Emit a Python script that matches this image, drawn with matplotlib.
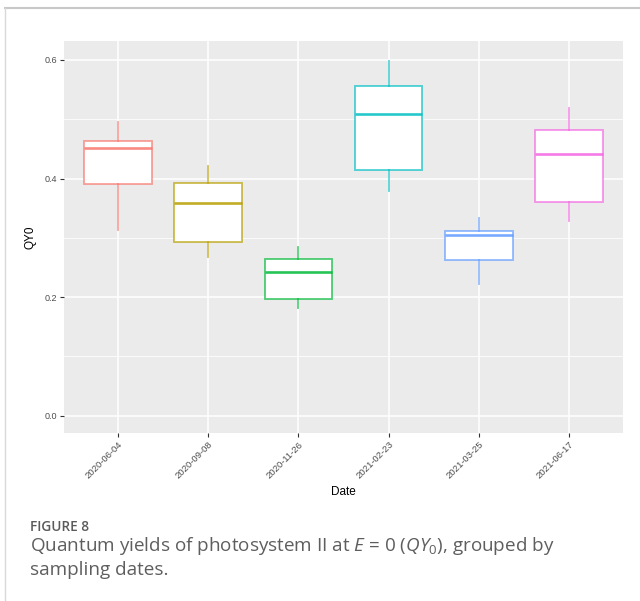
import numpy as np
import matplotlib.pyplot as plt
from matplotlib.colors import to_rgba
from matplotlib.lines import Line2D

# sampling dates and box statistics of QY0
dates = ['2020-06-04', '2020-09-08', '2020-11-26', '2021-02-23', '2021-03-25', '2021-06-17']
whislo = [0.313, 0.267, 0.181, 0.379, 0.222, 0.329]
q1 = [0.391, 0.293, 0.197, 0.414, 0.262, 0.360]
med = [0.452, 0.358, 0.243, 0.509, 0.305, 0.441]
q3 = [0.464, 0.392, 0.265, 0.556, 0.311, 0.482]
whishi = [0.496, 0.421, 0.284, 0.598, 0.333, 0.519]

# ggplot default hue palette
colors = ['#F8766D', '#B79F00', '#00BA38', '#00BFC4', '#619CFF', '#F564E3']

plt.rcParams['mathtext.fontset'] = 'custom'
plt.rcParams['mathtext.rm'] = 'Open Sans'
plt.rcParams['mathtext.it'] = 'Open Sans:italic'

W, H = 640, 601
fig = plt.figure(figsize=(W / 100, H / 100), dpi=100)
fig.patch.set_facecolor('white')

# panel placement in pixels
left, right, top, bottom = 64, 623, 41, 433
ax = fig.add_axes([left / W, 1 - bottom / H, (right - left) / W, (bottom - top) / H])
ax.set_facecolor('#EBEBEB')
for s in ax.spines.values():
    s.set_visible(False)

pos = np.arange(1, len(dates) + 1)
ax.set_xlim(0.4, len(dates) + 0.6)
ax.set_ylim(-0.029, 0.632)

# grid
ax.set_yticks([0.0, 0.2, 0.4, 0.6])
ax.set_yticks([0.1, 0.3, 0.5], minor=True)
ax.set_xticks(pos)
ax.grid(True, which='major', color='white', lw=1.1, zorder=0)
ax.grid(True, which='minor', axis='y', color='white', lw=0.55, zorder=0)
ax.set_axisbelow(True)

for i, p in enumerate(pos):
    st = [dict(whislo=whislo[i], q1=q1[i], med=med[i], q3=q3[i], whishi=whishi[i], fliers=[])]
    c = colors[i]
    ax.bxp(st, positions=[p], widths=0.75, patch_artist=True, showcaps=False,
           boxprops=dict(facecolor='white', edgecolor=to_rgba(c, 0.7), lw=1.3),
           whiskerprops=dict(color=to_rgba(c, 0.65), lw=1.3),
           medianprops=dict(color=to_rgba(c, 0.85), lw=1.9),
           manage_ticks=False, zorder=3)

ax.set_xticks(pos)
ax.set_xticklabels(dates, rotation=45, ha='right', va='top', rotation_mode='anchor',
                   fontsize=6.8, color='#4D4D4D', family='Liberation Sans')
ax.set_yticklabels(['0.0', '0.2', '0.4', '0.6'], fontsize=6.5, color='#4D4D4D',
                   family='Liberation Sans')
ax.tick_params(which='major', length=3, width=0.8, color='#333333', pad=2)
ax.tick_params(which='minor', length=0)

ax.set_xlabel('Date', fontsize=8.5, family='Liberation Sans', labelpad=4)
ax.set_ylabel('QY0', fontsize=8.5, family='Liberation Sans', labelpad=6)

# frame around figure block
fig.add_artist(Line2D([5 / W, 1], [1 - 7.5 / H, 1 - 7.5 / H], color='#C8C8C8', lw=1.5))
fig.add_artist(Line2D([5 / W, 5 / W], [0, 1 - 7.5 / H], color='#D8D8D8', lw=1.0))

# caption
fig.text(30 / W, 1 - 531 / H, 'FIGURE 8', fontsize=9.8, color='#5A5A5A',
         family='Open Sans', weight='semibold')
fig.text(30 / W, 1 - 551 / H, r'Quantum yields of photosystem II at $E$ = 0 ($QY_\mathrm{0}$), grouped by',
         fontsize=13.6, color='#5E5E5E', family='Open Sans')
fig.text(30 / W, 1 - 575 / H, 'sampling dates.', fontsize=13.6, color='#5E5E5E',
         family='Open Sans')

fig.savefig('out.png', dpi=100)
